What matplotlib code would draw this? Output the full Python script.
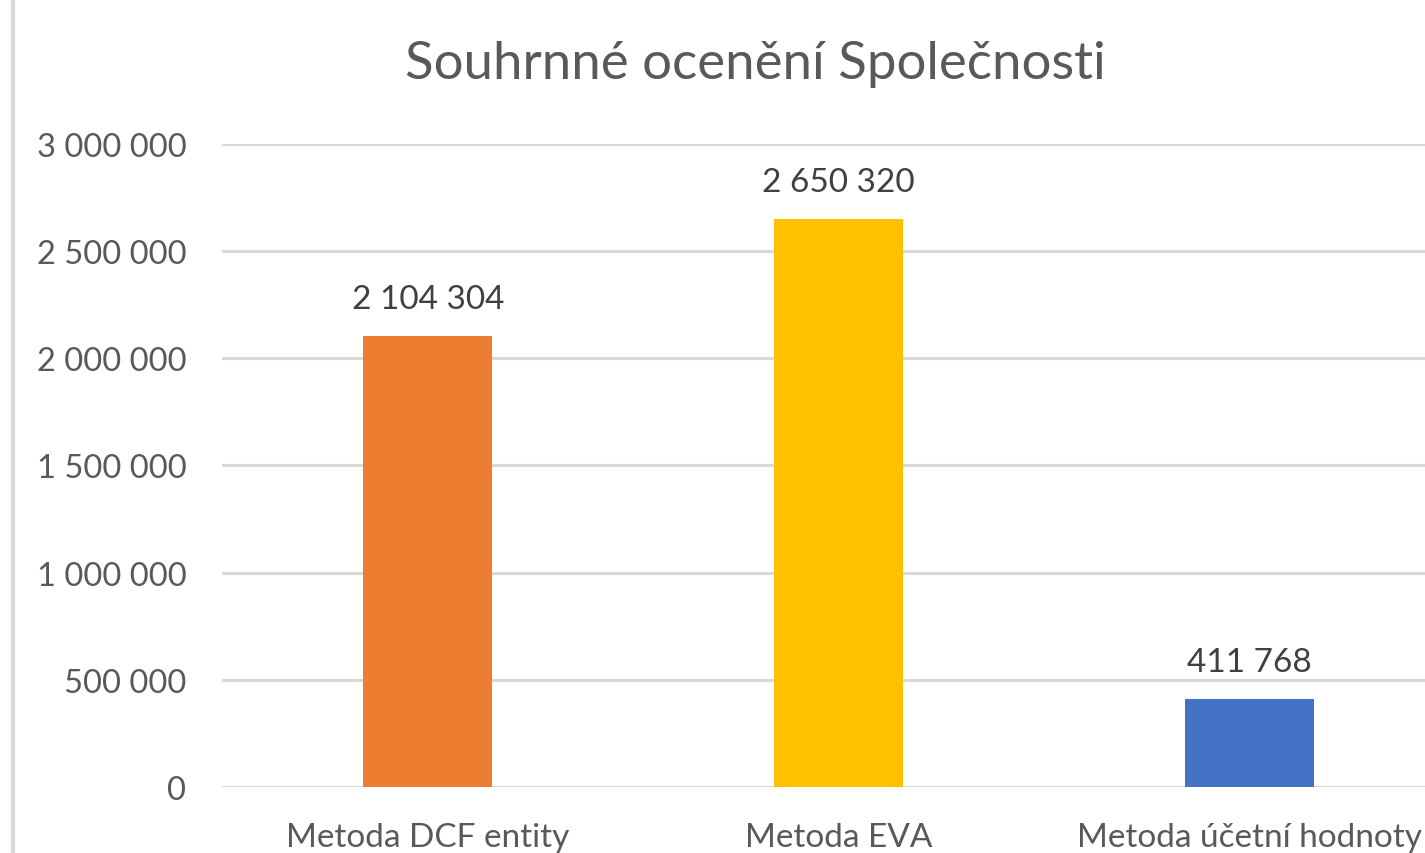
import matplotlib
matplotlib.use("Agg")
import matplotlib.pyplot as plt
from matplotlib.lines import Line2D

#----Data----

categories = ["Metoda DCF entity", "Metoda EVA", "Metoda účetní hodnoty"]
values = [2104304, 2650320, 411768]
bar_colors = ["#ED7D31", "#FFC000", "#4472C4"]
yticks = [0, 500000, 1000000, 1500000, 2000000, 2500000, 3000000]

def fmt(v):
    # czech style thousands separator
    return f"{v:,}".replace(",", " ")

#----Plot----

plt.rcParams["font.family"] = ["Lato", "DejaVu Sans"]

fig = plt.figure(figsize=(14.25, 8.54), dpi=100)
ax = fig.add_axes([0.1561, 0.0773, 0.8646, 0.7529])

x = list(range(len(categories)))
ax.bar(x, values, width=0.314, color=bar_colors, zorder=3)

for xi, v in zip(x, values):
    ax.annotate(fmt(v), (xi, v), xytext=(0, 16), textcoords="offset points",
                ha="center", va="bottom", fontsize=24, color="#404040")

ax.set_xlim(-0.5, 2.5)
ax.set_ylim(0, 3000000)
ax.set_yticks(yticks)
ax.set_yticklabels([fmt(t) for t in yticks])
ax.set_xticks(x)
ax.set_xticklabels(categories)
ax.tick_params(axis="y", length=0, pad=26, labelsize=23.5, labelcolor="#595959")
ax.tick_params(axis="x", length=0, pad=25, labelsize=24, labelcolor="#595959")

ax.grid(axis="y", color="#d9d9d9", linewidth=2.2, zorder=0)
for s in ax.spines.values():
    s.set_visible(False)

fig.text(0.53, 0.925, "Souhrnné ocenění Společnosti", ha="center", va="center",
         fontsize=38, color="#595959")

# left border of the chart area
fig.add_artist(Line2D([0.0091, 0.0091], [0, 1], color="#d9d9d9", linewidth=3,
                      transform=fig.transFigure))

fig.savefig("out.png", dpi=100)
